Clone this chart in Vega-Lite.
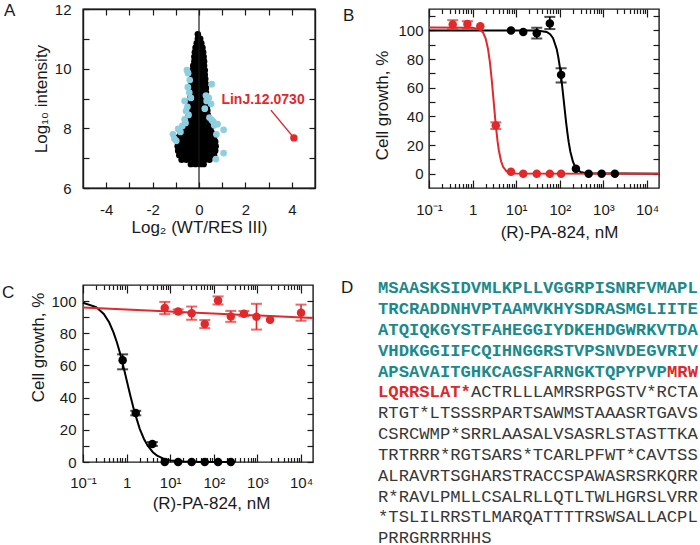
{
"$schema": "https://vega.github.io/schema/vega-lite/v6.json",
"background": "white",
"padding": {"left": 1, "top": 1, "right": 0, "bottom": 0},
"config": {
  "font": "Liberation Sans",
  "view": {"stroke": "#1a1a1a", "strokeWidth": 1.4},
  "axis": {"domain": false, "grid": false, "tickColor": "#1a1a1a", "tickWidth": 1.2, "labelColor": "#1a1a1a", "titleColor": "#1a1a1a", "labelFontSize": 15, "titleFontSize": 17, "titleFontWeight": "normal", "labelFlush": false, "labelOverlap": false, "labelFont": "Liberation Sans", "titleFont": "Liberation Sans"}
},
"columns": 2,
"bounds": "flush",
"align": "each",
"spacing": {"row": 97, "column": 114},
"datasets": {
  "aBlack": [
    {"x":-0.05,"y":11.15},
    {"x":-0.05,"y":11.0},{"x":0.05,"y":11.0},
    {"x":-0.1,"y":10.85},{"x":0.0,"y":10.85},{"x":0.1,"y":10.85},
    {"x":-0.15,"y":10.7},{"x":0.0,"y":10.7},{"x":0.15,"y":10.7},
    {"x":-0.18,"y":10.55},{"x":0.0,"y":10.55},{"x":0.18,"y":10.55},
    {"x":-0.2,"y":10.4},{"x":-0.05,"y":10.4},{"x":0.1,"y":10.4},{"x":0.2,"y":10.4},
    {"x":-0.2,"y":10.25},{"x":-0.05,"y":10.25},{"x":0.1,"y":10.25},{"x":0.22,"y":10.25},
    {"x":-0.25,"y":10.1},{"x":-0.08,"y":10.1},{"x":0.08,"y":10.1},{"x":0.22,"y":10.1},
    {"x":-0.28,"y":9.95},{"x":-0.1,"y":9.95},{"x":0.08,"y":9.95},{"x":0.25,"y":9.95},
    {"x":-0.3,"y":9.8},{"x":-0.1,"y":9.8},{"x":0.08,"y":9.8},{"x":0.25,"y":9.8},
    {"x":-0.3,"y":9.65},{"x":-0.1,"y":9.65},{"x":0.1,"y":9.65},{"x":0.27,"y":9.65},
    {"x":-0.32,"y":9.5},{"x":-0.12,"y":9.5},{"x":0.08,"y":9.5},{"x":0.28,"y":9.5},
    {"x":-0.33,"y":9.35},{"x":-0.12,"y":9.35},{"x":0.1,"y":9.35},{"x":0.3,"y":9.35},
    {"x":-0.35,"y":9.2},{"x":-0.15,"y":9.2},{"x":0.05,"y":9.2},{"x":0.3,"y":9.2},
    {"x":-0.36,"y":9.05},{"x":-0.15,"y":9.05},{"x":0.05,"y":9.05},{"x":0.32,"y":9.05},
    {"x":-0.38,"y":8.9},{"x":-0.18,"y":8.9},{"x":0.02,"y":8.9},{"x":0.2,"y":8.9},{"x":0.33,"y":8.9},
    {"x":-0.4,"y":8.75},{"x":-0.2,"y":8.75},{"x":0.0,"y":8.75},{"x":0.2,"y":8.75},{"x":0.35,"y":8.75},
    {"x":-0.42,"y":8.6},{"x":-0.22,"y":8.6},{"x":0.0,"y":8.6},{"x":0.2,"y":8.6},{"x":0.36,"y":8.6},
    {"x":-0.45,"y":8.45},{"x":-0.25,"y":8.45},{"x":-0.05,"y":8.45},{"x":0.15,"y":8.45},{"x":0.38,"y":8.45},
    {"x":-0.5,"y":8.3},{"x":-0.3,"y":8.3},{"x":-0.1,"y":8.3},{"x":0.1,"y":8.3},{"x":0.28,"y":8.3},{"x":0.4,"y":8.3},
    {"x":-0.6,"y":8.15},{"x":-0.4,"y":8.15},{"x":-0.2,"y":8.15},{"x":0.0,"y":8.15},{"x":0.2,"y":8.15},{"x":0.45,"y":8.15},
    {"x":-0.7,"y":8.0},{"x":-0.5,"y":8.0},{"x":-0.3,"y":8.0},{"x":-0.1,"y":8.0},{"x":0.1,"y":8.0},{"x":0.3,"y":8.0},{"x":0.5,"y":8.0},
    {"x":-0.8,"y":7.85},{"x":-0.6,"y":7.85},{"x":-0.4,"y":7.85},{"x":-0.2,"y":7.85},{"x":0.0,"y":7.85},{"x":0.2,"y":7.85},{"x":0.4,"y":7.85},{"x":0.55,"y":7.85},
    {"x":-0.88,"y":7.7},{"x":-0.68,"y":7.7},{"x":-0.48,"y":7.7},{"x":-0.28,"y":7.7},{"x":-0.08,"y":7.7},{"x":0.12,"y":7.7},{"x":0.32,"y":7.7},{"x":0.5,"y":7.7},{"x":0.65,"y":7.7},
    {"x":-0.9,"y":7.55},{"x":-0.7,"y":7.55},{"x":-0.5,"y":7.55},{"x":-0.3,"y":7.55},{"x":-0.1,"y":7.55},{"x":0.1,"y":7.55},{"x":0.3,"y":7.55},{"x":0.5,"y":7.55},{"x":0.7,"y":7.55},
    {"x":-0.92,"y":7.4},{"x":-0.72,"y":7.4},{"x":-0.52,"y":7.4},{"x":-0.32,"y":7.4},{"x":-0.12,"y":7.4},{"x":0.08,"y":7.4},{"x":0.28,"y":7.4},{"x":0.48,"y":7.4},{"x":0.72,"y":7.4},
    {"x":-0.9,"y":7.25},{"x":-0.7,"y":7.25},{"x":-0.5,"y":7.25},{"x":-0.3,"y":7.25},{"x":-0.1,"y":7.25},{"x":0.1,"y":7.25},{"x":0.3,"y":7.25},{"x":0.5,"y":7.25},{"x":0.7,"y":7.25},
    {"x":-0.85,"y":7.1},{"x":-0.65,"y":7.1},{"x":-0.45,"y":7.1},{"x":-0.25,"y":7.1},{"x":-0.05,"y":7.1},{"x":0.15,"y":7.1},{"x":0.35,"y":7.1},{"x":0.55,"y":7.1},{"x":0.65,"y":7.1},
    {"x":-0.75,"y":6.95},{"x":-0.55,"y":6.95},{"x":-0.35,"y":6.95},{"x":-0.15,"y":6.95},{"x":0.05,"y":6.95},{"x":0.25,"y":6.95},{"x":0.45,"y":6.95},
    {"x":-0.35,"y":6.8},{"x":-0.15,"y":6.8},{"x":0.05,"y":6.8},{"x":0.2,"y":6.8}
  ],
  "aCyan": [
    {"x":-0.52,"y":9.95},{"x":-0.47,"y":9.85},{"x":-0.4,"y":9.62},{"x":-0.48,"y":9.38},{"x":-0.42,"y":9.2},{"x":-0.35,"y":9.02},
    {"x":-0.62,"y":8.92},{"x":-0.5,"y":8.72},{"x":-0.56,"y":8.58},{"x":-0.45,"y":8.45},{"x":-0.62,"y":8.3},{"x":-0.58,"y":8.18},
    {"x":-0.72,"y":8.08},{"x":-0.9,"y":7.98},{"x":-1.12,"y":7.8},{"x":-1.06,"y":7.65},{"x":-0.98,"y":7.58},{"x":-0.8,"y":7.88},
    {"x":0.55,"y":9.48},{"x":0.3,"y":9.1},{"x":0.42,"y":9.02},{"x":0.52,"y":8.82},{"x":0.25,"y":8.66},{"x":0.33,"y":8.92},
    {"x":0.45,"y":8.36},{"x":0.55,"y":8.28},{"x":0.66,"y":8.1},{"x":0.8,"y":8.14},{"x":1.06,"y":7.95},{"x":1.06,"y":7.17},
    {"x":0.73,"y":6.97},{"x":0.62,"y":8.22},{"x":0.75,"y":7.8}
  ],
  "aHit": [{"x":4.09,"y":7.68,"lx":3.1,"ly":8.61,"label":"LinJ.12.0730","tx":2.76,"ty":8.95}],
  "zero": [{"x":0}],
  "bFit": [
    {"s":"K","x":0.1,"y":100},{"s":"K","x":30,"y":99.9},{"s":"K","x":50,"y":98.95},{"s":"K","x":60,"y":97.4},{"s":"K","x":70,"y":94.6},
    {"s":"K","x":85,"y":86.9},{"s":"K","x":92,"y":81.6},{"s":"K","x":100,"y":74.6},{"s":"K","x":108,"y":66.7},{"s":"K","x":115,"y":59.3},
    {"s":"K","x":122,"y":52.1},{"s":"K","x":130,"y":44.2},{"s":"K","x":140,"y":35.3},{"s":"K","x":150,"y":27.9},{"s":"K","x":160,"y":21.8},
    {"s":"K","x":175,"y":15.2},{"s":"K","x":200,"y":8.4},{"s":"K","x":225,"y":4.8},{"s":"K","x":250,"y":2.9},{"s":"K","x":300,"y":1.2},
    {"s":"K","x":400,"y":0.3},{"s":"K","x":18800,"y":0},
    {"s":"R","x":0.1,"y":102},{"s":"R","x":1,"y":101.9},{"s":"R","x":1.5,"y":100.5},{"s":"R","x":1.75,"y":98.3},{"s":"R","x":2,"y":94.2},
    {"s":"R","x":2.25,"y":87.3},{"s":"R","x":2.5,"y":77.6},{"s":"R","x":2.75,"y":65.4},{"s":"R","x":3,"y":52.5},{"s":"R","x":3.25,"y":40.4},
    {"s":"R","x":3.5,"y":30.2},{"s":"R","x":3.75,"y":22.2},{"s":"R","x":4,"y":16.2},{"s":"R","x":4.5,"y":8.7},{"s":"R","x":5,"y":4.8},
    {"s":"R","x":6,"y":1.66},{"s":"R","x":8,"y":0.3},{"s":"R","x":10,"y":0.1},{"s":"R","x":18800,"y":0}
  ],
  "bPts": [
    {"s":"K","x":7.6,"y":100,"lo":null,"hi":null},
    {"s":"K","x":14.5,"y":99,"lo":null,"hi":null},
    {"s":"K","x":29.6,"y":98.1,"lo":94.4,"hi":101.9},
    {"s":"K","x":59,"y":104.9,"lo":101,"hi":109.5},
    {"s":"K","x":107,"y":69,"lo":63.7,"hi":73.6},
    {"s":"K","x":234,"y":3.5,"lo":null,"hi":null},
    {"s":"K","x":458,"y":0,"lo":null,"hi":null},
    {"s":"K","x":910,"y":0,"lo":null,"hi":null},
    {"s":"K","x":1830,"y":0,"lo":null,"hi":null},
    {"s":"R","x":0.35,"y":104.2,"lo":100.9,"hi":107.2},
    {"s":"R","x":0.76,"y":104.5,"lo":101.4,"hi":106.5},
    {"s":"R","x":1.5,"y":103,"lo":null,"hi":null},
    {"s":"R","x":3.4,"y":33.6,"lo":31.2,"hi":35.9},
    {"s":"R","x":7.6,"y":1.4,"lo":null,"hi":null},
    {"s":"R","x":14.5,"y":0,"lo":null,"hi":null},
    {"s":"R","x":29.6,"y":0,"lo":null,"hi":null},
    {"s":"R","x":59,"y":0,"lo":null,"hi":null},
    {"s":"R","x":107,"y":0,"lo":null,"hi":null}
  ],
  "cFit": [
    {"s":"K","x":0.1,"y":99},{"s":"K","x":0.2,"y":96.3},{"s":"K","x":0.3,"y":92},{"s":"K","x":0.4,"y":86.7},{"s":"K","x":0.5,"y":80.6},
    {"s":"K","x":0.6,"y":74.3},{"s":"K","x":0.7,"y":68},{"s":"K","x":0.8,"y":61.9},{"s":"K","x":0.9,"y":56.2},{"s":"K","x":1.0,"y":51},
    {"s":"K","x":1.2,"y":41.9},{"s":"K","x":1.5,"y":31.6},{"s":"K","x":2,"y":20.6},{"s":"K","x":2.5,"y":14.3},{"s":"K","x":3,"y":10.4},
    {"s":"K","x":4,"y":6.1},{"s":"K","x":5,"y":4.0},{"s":"K","x":7,"y":2.1},{"s":"K","x":10,"y":1.0},{"s":"K","x":20,"y":0.26},
    {"s":"K","x":50,"y":0.04},{"s":"K","x":300,"y":0},
    {"s":"R","x":0.1,"y":96},{"s":"R","x":18800,"y":89.5}
  ],
  "cPts": [
    {"s":"K","x":0.81,"y":63.2,"lo":57.6,"hi":66.9},
    {"s":"K","x":1.62,"y":30.4,"lo":29.0,"hi":31.8},
    {"s":"K","x":3.9,"y":11.2,"lo":10.0,"hi":12.4},
    {"s":"K","x":7.5,"y":0,"lo":null,"hi":null},
    {"s":"K","x":15.2,"y":0,"lo":null,"hi":null},
    {"s":"K","x":31,"y":0,"lo":null,"hi":null},
    {"s":"K","x":62,"y":0,"lo":null,"hi":null},
    {"s":"K","x":125,"y":0,"lo":null,"hi":null},
    {"s":"K","x":245,"y":0,"lo":null,"hi":null},
    {"s":"R","x":7.5,"y":95.7,"lo":91.9,"hi":99.5},
    {"s":"R","x":15.2,"y":93.6,"lo":92.4,"hi":94.8},
    {"s":"R","x":31,"y":92.5,"lo":88.4,"hi":96.6},
    {"s":"R","x":62,"y":85.7,"lo":83.2,"hi":88.2},
    {"s":"R","x":125,"y":100.4,"lo":97.9,"hi":102.9},
    {"s":"R","x":245,"y":90.5,"lo":87.1,"hi":93.9},
    {"s":"R","x":490,"y":92.2,"lo":90.6,"hi":93.8},
    {"s":"R","x":950,"y":90.3,"lo":82.3,"hi":98.3},
    {"s":"R","x":1950,"y":88.4,"lo":null,"hi":null},
    {"s":"R","x":10000,"y":92.8,"lo":87.8,"hi":97.8}
  ],
  "dText": [
    {"line":0,"col":0,"t":"MSAASKSIDVMLKPLLVGGRPISNRFVMAPL","s":"teal"},
    {"line":1,"col":0,"t":"TRCRADDNHVPTAAMVKHYSDRASMGLIITE","s":"teal"},
    {"line":2,"col":0,"t":"ATQIQKGYSTFAHEGGIYDKEHDGWRKVTDA","s":"teal"},
    {"line":3,"col":0,"t":"VHDKGGIIFCQIHNGGRSTVPSNVDEGVRIV","s":"teal"},
    {"line":4,"col":0,"t":"APSAVAITGHKCAGSFARNGKTQPYPVP","s":"teal"},
    {"line":4,"col":28,"t":"MRW","s":"red"},
    {"line":5,"col":0,"t":"LQRRSLAT*","s":"red"},
    {"line":5,"col":9,"t":"ACTRLLLAMRSRPGSTV*RCTA","s":"gray"},
    {"line":6,"col":0,"t":"RTGT*LTSSSRPARTSAWMSTAAASRTGAVS","s":"gray"},
    {"line":7,"col":0,"t":"CSRCWMP*SRRLAASALVSASRLSTASTTKA","s":"gray"},
    {"line":8,"col":0,"t":"TRTRRR*RGTSARS*TCARLPFWT*CAVTSS","s":"gray"},
    {"line":9,"col":0,"t":"ALRAVRTSGHARSTRACCSPAWASRSRKQRR","s":"gray"},
    {"line":10,"col":0,"t":"R*RAVLPMLLCSALRLLQTLTWLHGRSLVRR","s":"gray"},
    {"line":11,"col":0,"t":"*TSLILRRSTLMARQATTTTRSWSALLACPL","s":"gray"},
    {"line":12,"col":0,"t":"PRRGRRRRHHS","s":"gray"}
  ]
},
"concat": [
  {
    "width": 232, "height": 179,
    "view": {"stroke": "#1a1a1a", "strokeWidth": 1.4},
    "title": {"text": "A", "anchor": "start", "frame": "group", "fontSize": 17, "fontWeight": "normal", "font": "Liberation Sans", "color": "#1a1a1a", "baseline": "alphabetic", "offset": 0, "dx": -79, "dy": 31},
    "resolve": {"axis": {"x": "independent", "y": "independent"}},
    "layer": [
      {
        "data": {"name": "aBlack"},
        "mark": {"type": "circle", "size": 42, "color": "#000000", "opacity": 1},
        "encoding": {
          "x": {"field": "x", "type": "quantitative", "scale": {"domain": [-5, 5], "nice": false, "zero": false},
                "axis": {"orient": "bottom", "zindex": 1, "domain": true, "domainColor": "#1a1a1a", "domainWidth": 1.4, "values": [-4,-3,-2,-1,0,1,2,3,4], "tickSize": -6, "labelPadding": 20, "labelExpr": "datum.value % 2 == 0 ? replace(datum.label, '−', '-') : ''", "title": "Log₂ (WT/RES III)", "titlePadding": 2}},
          "y": {"field": "y", "type": "quantitative", "scale": {"domain": [6, 12], "nice": false, "zero": false},
                "axis": {"orient": "left", "zindex": 1, "domain": true, "domainColor": "#1a1a1a", "domainWidth": 1.4, "values": [6,7,8,9,10,11,12], "tickSize": -6, "labelPadding": 18, "labelExpr": "datum.value % 2 == 0 ? datum.label : ''", "title": "Log₁₀ intensity", "titlePadding": 4}}
        }
      },
      {
        "data": {"name": "aCyan"},
        "mark": {"type": "circle", "size": 45, "color": "#8dcfe0", "opacity": 1},
        "encoding": {
          "x": {"field": "x", "type": "quantitative", "scale": {"domain": [-5, 5], "nice": false, "zero": false}, "axis": null},
          "y": {"field": "y", "type": "quantitative", "scale": {"domain": [6, 12], "nice": false, "zero": false}, "axis": null}
        }
      },
      {
        "data": {"name": "zero"},
        "mark": {"type": "rule", "color": "#1a1a1a", "strokeWidth": 1.2},
        "encoding": {
          "x": {"field": "x", "type": "quantitative", "scale": {"domain": [-5, 5], "nice": false, "zero": false}, "axis": null}
        }
      },
      {
        "data": {"name": "aHit"},
        "mark": {"type": "rule", "color": "#e2282b", "strokeWidth": 1.5},
        "encoding": {
          "x": {"field": "lx", "type": "quantitative", "scale": {"domain": [-5, 5], "nice": false, "zero": false}, "axis": null},
          "y": {"field": "ly", "type": "quantitative", "scale": {"domain": [6, 12], "nice": false, "zero": false}, "axis": null},
          "x2": {"field": "x"},
          "y2": {"field": "y"}
        }
      },
      {
        "data": {"name": "aHit"},
        "mark": {"type": "circle", "size": 55, "color": "#e2282b", "opacity": 1},
        "encoding": {
          "x": {"field": "x", "type": "quantitative", "scale": {"domain": [-5, 5], "nice": false, "zero": false},
                "axis": {"orient": "top", "zindex": 1, "domain": true, "domainColor": "#1a1a1a", "domainWidth": 1.4, "values": [-4,-3,-2,-1,0,1,2,3,4], "tickSize": -6, "labels": false, "title": null}},
          "y": {"field": "y", "type": "quantitative", "scale": {"domain": [6, 12], "nice": false, "zero": false},
                "axis": {"orient": "right", "zindex": 1, "domain": true, "domainColor": "#1a1a1a", "domainWidth": 1.4, "values": [6,7,8,9,10,11,12], "tickSize": -6, "labels": false, "title": null}}
        }
      },
      {
        "data": {"name": "aHit"},
        "mark": {"type": "text", "font": "Liberation Sans", "fontSize": 14, "fontWeight": "bold", "color": "#e2282b", "align": "center", "baseline": "middle"},
        "encoding": {
          "x": {"field": "tx", "type": "quantitative", "scale": {"domain": [-5, 5], "nice": false, "zero": false}, "axis": null},
          "y": {"field": "ty", "type": "quantitative", "scale": {"domain": [6, 12], "nice": false, "zero": false}, "axis": null},
          "text": {"field": "label"}
        }
      }
    ]
  },
  {
    "width": 230, "height": 179,
    "title": {"text": "B", "anchor": "start", "frame": "group", "fontSize": 17, "fontWeight": "normal", "font": "Liberation Sans", "color": "#1a1a1a", "baseline": "alphabetic", "offset": 0, "dx": -86, "dy": 30},
    "resolve": {"axis": {"x": "independent", "y": "independent"}},
    "layer": [
      {
        "data": {"name": "bFit"},
        "transform": [{"filter": "datum.s == 'K'"}],
        "mark": {"type": "line", "color": "#000000", "strokeWidth": 2},
        "encoding": {
          "x": {"field": "x", "type": "quantitative", "scale": {"type": "log", "domain": [0.1, 18800], "nice": false},
                "axis": {"orient": "bottom", "values": [0.1,1,10,100,1000,10000], "tickSize": -8, "labelPadding": 22, "labelExpr": "datum.value < 0.5 ? '10⁻¹' : datum.value < 5 ? '1' : datum.value < 50 ? '10¹' : datum.value < 500 ? '10²' : datum.value < 5000 ? '10³' : '10⁴'", "title": "(R)-PA-824, nM", "titlePadding": 7, "titleX": 130}},
          "y": {"field": "y", "type": "quantitative", "scale": {"domain": [-10, 115], "nice": false, "zero": false},
                "axis": {"orient": "left", "values": [0,10,20,30,40,50,60,70,80,90,100,110], "tickSize": -6, "labelPadding": 12, "labelExpr": "datum.value % 20 == 0 ? datum.label : ''", "title": "Cell growth, %", "titlePadding": 6, "titleY": 96}}
        }
      },
      {
        "data": {"name": "bFit"},
        "transform": [{"filter": "datum.s == 'R'"}],
        "mark": {"type": "line", "color": "#e2282b", "strokeWidth": 2},
        "encoding": {
          "x": {"field": "x", "type": "quantitative", "scale": {"type": "log", "domain": [0.1, 18800], "nice": false},
                "axis": {"orient": "bottom", "values": [0.2,0.3,0.4,0.5,0.6,0.7,0.8,0.9,2,3,4,5,6,7,8,9,20,30,40,50,60,70,80,90,200,300,400,500,600,700,800,900,2000,3000,4000,5000,6000,7000,8000,9000], "tickSize": -4.5, "labels": false, "title": null}},
          "y": {"field": "y", "type": "quantitative", "scale": {"domain": [-10, 115], "nice": false, "zero": false},
                "axis": {"orient": "right", "values": [0,10,20,30,40,50,60,70,80,90,100,110], "tickSize": -6, "labels": false, "title": null}}
        }
      },
      {
        "data": {"name": "bPts"},
        "mark": {"type": "circle", "size": 72, "opacity": 1},
        "encoding": {
          "x": {"field": "x", "type": "quantitative", "scale": {"type": "log", "domain": [0.1, 18800], "nice": false},
                "axis": {"orient": "top", "values": [0.1,1,10,100,1000,10000], "tickSize": -8, "labels": false, "title": null}},
          "y": {"field": "y", "type": "quantitative", "scale": {"domain": [-10, 115], "nice": false, "zero": false}, "axis": null},
          "color": {"field": "s", "type": "nominal", "scale": {"domain": ["K", "R"], "range": ["#000000", "#e2282b"]}, "legend": null}
        }
      },
      {
        "data": {"name": "bPts"},
        "mark": {"type": "rule", "strokeWidth": 1.6},
        "encoding": {
          "x": {"field": "x", "type": "quantitative", "scale": {"type": "log", "domain": [0.1, 18800], "nice": false},
                "axis": {"orient": "top", "values": [0.2,0.3,0.4,0.5,0.6,0.7,0.8,0.9,2,3,4,5,6,7,8,9,20,30,40,50,60,70,80,90,200,300,400,500,600,700,800,900,2000,3000,4000,5000,6000,7000,8000,9000], "tickSize": -4.5, "labels": false, "title": null}},
          "y": {"field": "lo", "type": "quantitative", "scale": {"domain": [-10, 115], "nice": false, "zero": false}, "axis": null},
          "y2": {"field": "hi"},
          "color": {"field": "s", "type": "nominal", "scale": {"domain": ["K", "R"], "range": ["#000000", "#e2282b"]}, "legend": null}
        }
      },
      {
        "data": {"name": "bPts"},
        "mark": {"type": "tick", "orient": "horizontal", "size": 11, "thickness": 2},
        "encoding": {
          "x": {"field": "x", "type": "quantitative", "scale": {"type": "log", "domain": [0.1, 18800], "nice": false}, "axis": null},
          "y": {"field": "lo", "type": "quantitative", "scale": {"domain": [-10, 115], "nice": false, "zero": false}, "axis": null},
          "color": {"field": "s", "type": "nominal", "scale": {"domain": ["K", "R"], "range": ["#000000", "#e2282b"]}, "legend": null}
        }
      },
      {
        "data": {"name": "bPts"},
        "mark": {"type": "tick", "orient": "horizontal", "size": 11, "thickness": 2},
        "encoding": {
          "x": {"field": "x", "type": "quantitative", "scale": {"type": "log", "domain": [0.1, 18800], "nice": false}, "axis": null},
          "y": {"field": "hi", "type": "quantitative", "scale": {"domain": [-10, 115], "nice": false, "zero": false}, "axis": null},
          "color": {"field": "s", "type": "nominal", "scale": {"domain": ["K", "R"], "range": ["#000000", "#e2282b"]}, "legend": null}
        }
      }
    ]
  },
  {
    "width": 230, "height": 177,
    "title": {"text": "C", "anchor": "start", "frame": "group", "fontSize": 17, "fontWeight": "normal", "font": "Liberation Sans", "color": "#1a1a1a", "baseline": "alphabetic", "offset": 0, "dx": -81, "dy": 31},
    "resolve": {"axis": {"x": "independent", "y": "independent"}},
    "layer": [
      {
        "data": {"name": "cFit"},
        "transform": [{"filter": "datum.s == 'K'"}],
        "mark": {"type": "line", "color": "#000000", "strokeWidth": 2},
        "encoding": {
          "x": {"field": "x", "type": "quantitative", "scale": {"type": "log", "domain": [0.1, 18800], "nice": false},
                "axis": {"orient": "bottom", "values": [0.1,1,10,100,1000,10000], "tickSize": -8, "labelPadding": 21, "labelExpr": "datum.value < 0.5 ? '10⁻¹' : datum.value < 5 ? '1' : datum.value < 50 ? '10¹' : datum.value < 500 ? '10²' : datum.value < 5000 ? '10³' : '10⁴'", "title": "(R)-PA-824, nM", "titlePadding": 5, "titleX": 128}},
          "y": {"field": "y", "type": "quantitative", "scale": {"domain": [0, 110], "nice": false, "zero": false},
                "axis": {"orient": "left", "values": [0,10,20,30,40,50,60,70,80,90,100], "tickSize": -6, "labelPadding": 13, "labelExpr": "datum.value % 20 == 0 ? datum.label : ''", "title": "Cell growth, %", "titlePadding": 3, "titleY": 62}}
        }
      },
      {
        "data": {"name": "cFit"},
        "transform": [{"filter": "datum.s == 'R'"}],
        "mark": {"type": "line", "color": "#e2282b", "strokeWidth": 2},
        "encoding": {
          "x": {"field": "x", "type": "quantitative", "scale": {"type": "log", "domain": [0.1, 18800], "nice": false},
                "axis": {"orient": "bottom", "values": [0.2,0.3,0.4,0.5,0.6,0.7,0.8,0.9,2,3,4,5,6,7,8,9,20,30,40,50,60,70,80,90,200,300,400,500,600,700,800,900,2000,3000,4000,5000,6000,7000,8000,9000], "tickSize": -4.5, "labels": false, "title": null}},
          "y": {"field": "y", "type": "quantitative", "scale": {"domain": [0, 110], "nice": false, "zero": false},
                "axis": {"orient": "right", "values": [0,10,20,30,40,50,60,70,80,90,100], "tickSize": -6, "labels": false, "title": null}}
        }
      },
      {
        "data": {"name": "cPts"},
        "mark": {"type": "circle", "size": 72, "opacity": 1},
        "encoding": {
          "x": {"field": "x", "type": "quantitative", "scale": {"type": "log", "domain": [0.1, 18800], "nice": false},
                "axis": {"orient": "top", "values": [0.1,1,10,100,1000,10000], "tickSize": -8, "labels": false, "title": null}},
          "y": {"field": "y", "type": "quantitative", "scale": {"domain": [0, 110], "nice": false, "zero": false}, "axis": null},
          "color": {"field": "s", "type": "nominal", "scale": {"domain": ["K", "R"], "range": ["#000000", "#e2282b"]}, "legend": null}
        }
      },
      {
        "data": {"name": "cPts"},
        "mark": {"type": "rule", "strokeWidth": 1.6},
        "encoding": {
          "x": {"field": "x", "type": "quantitative", "scale": {"type": "log", "domain": [0.1, 18800], "nice": false},
                "axis": {"orient": "top", "values": [0.2,0.3,0.4,0.5,0.6,0.7,0.8,0.9,2,3,4,5,6,7,8,9,20,30,40,50,60,70,80,90,200,300,400,500,600,700,800,900,2000,3000,4000,5000,6000,7000,8000,9000], "tickSize": -4.5, "labels": false, "title": null}},
          "y": {"field": "lo", "type": "quantitative", "scale": {"domain": [0, 110], "nice": false, "zero": false}, "axis": null},
          "y2": {"field": "hi"},
          "color": {"field": "s", "type": "nominal", "scale": {"domain": ["K", "R"], "range": ["#000000", "#e2282b"]}, "legend": null}
        }
      },
      {
        "data": {"name": "cPts"},
        "mark": {"type": "tick", "orient": "horizontal", "size": 11, "thickness": 2},
        "encoding": {
          "x": {"field": "x", "type": "quantitative", "scale": {"type": "log", "domain": [0.1, 18800], "nice": false}, "axis": null},
          "y": {"field": "lo", "type": "quantitative", "scale": {"domain": [0, 110], "nice": false, "zero": false}, "axis": null},
          "color": {"field": "s", "type": "nominal", "scale": {"domain": ["K", "R"], "range": ["#000000", "#e2282b"]}, "legend": null}
        }
      },
      {
        "data": {"name": "cPts"},
        "mark": {"type": "tick", "orient": "horizontal", "size": 11, "thickness": 2},
        "encoding": {
          "x": {"field": "x", "type": "quantitative", "scale": {"type": "log", "domain": [0.1, 18800], "nice": false}, "axis": null},
          "y": {"field": "hi", "type": "quantitative", "scale": {"domain": [0, 110], "nice": false, "zero": false}, "axis": null},
          "color": {"field": "s", "type": "nominal", "scale": {"domain": ["K", "R"], "range": ["#000000", "#e2282b"]}, "legend": null}
        }
      }
    ]
  },
  {
    "width": 269, "height": 252,
    "view": {"stroke": null},
    "title": {"text": "D", "anchor": "start", "frame": "group", "fontSize": 17, "fontWeight": "normal", "font": "Liberation Sans", "color": "#1a1a1a", "baseline": "alphabetic", "offset": 0, "dx": -88, "dy": 31},
    "data": {"name": "dText"},
    "layer": [
      {
        "transform": [{"filter": "datum.s == 'teal'"}],
        "mark": {"type": "text", "align": "left", "baseline": "alphabetic", "font": "Liberation Mono", "fontSize": 17.2, "fontWeight": "bold", "color": "#1b8a8c"},
        "encoding": {
          "x": {"field": "col", "type": "quantitative", "scale": {"domain": [4.94, 31], "nice": false, "zero": false}, "axis": null},
          "y": {"field": "line", "type": "quantitative", "scale": {"domain": [-0.4, 11.7], "reverse": true, "nice": false, "zero": false}, "axis": null},
          "text": {"field": "t"}
        }
      },
      {
        "transform": [{"filter": "datum.s == 'red'"}],
        "mark": {"type": "text", "align": "left", "baseline": "alphabetic", "font": "Liberation Mono", "fontSize": 17.2, "fontWeight": "bold", "color": "#dc2a2a"},
        "encoding": {
          "x": {"field": "col", "type": "quantitative", "scale": {"domain": [4.94, 31], "nice": false, "zero": false}, "axis": null},
          "y": {"field": "line", "type": "quantitative", "scale": {"domain": [-0.4, 11.7], "reverse": true, "nice": false, "zero": false}, "axis": null},
          "text": {"field": "t"}
        }
      },
      {
        "transform": [{"filter": "datum.s == 'gray'"}],
        "mark": {"type": "text", "align": "left", "baseline": "alphabetic", "font": "Liberation Mono", "fontSize": 17.2, "fontWeight": "normal", "color": "#383838"},
        "encoding": {
          "x": {"field": "col", "type": "quantitative", "scale": {"domain": [4.94, 31], "nice": false, "zero": false}, "axis": null},
          "y": {"field": "line", "type": "quantitative", "scale": {"domain": [-0.4, 11.7], "reverse": true, "nice": false, "zero": false}, "axis": null},
          "text": {"field": "t"}
        }
      }
    ]
  }
]
}
